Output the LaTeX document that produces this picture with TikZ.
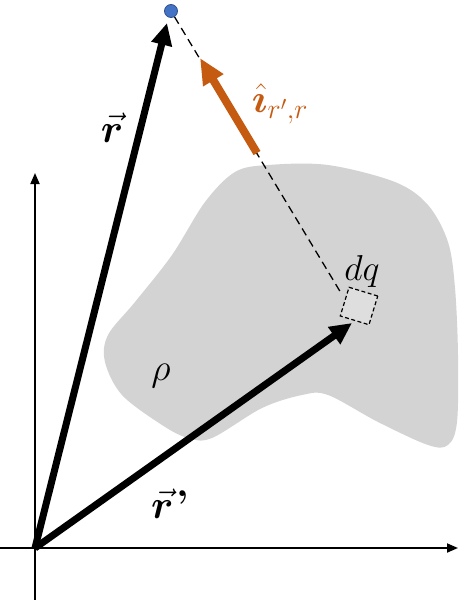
\RequirePackage{fix-cm}
\documentclass[tikz,border=0pt]{standalone}
\usepackage{amsmath,bm}
\usetikzlibrary{arrows.meta}
\definecolor{blobgray}{HTML}{D3D3D3}
\definecolor{sqgray}{HTML}{DEDEDE}
\definecolor{vorange}{HTML}{C55A11}
\definecolor{dotblue}{HTML}{4472C4}
\definecolor{dotedge}{HTML}{2F528F}
\tikzset{
  axis/.style={line width=1.8pt,-{Triangle[length=11pt,width=9pt]}},
  vec/.style={line width=7pt,-{Triangle[length=22pt,width=20pt]}},
  unitvec/.style={line width=8pt,vorange,-{Triangle[length=26pt,width=22pt]}},
  lbl/.style={inner sep=0pt},
  guide/.style={line width=1.3pt,dash pattern=on 8pt off 5pt},
}
\begin{document}
\begin{tikzpicture}[x=1pt,y=-1pt]
\useasboundingbox (0,0) rectangle (469,600);
% charge distribution
\fill[blobgray] plot[smooth cycle,tension=0.55] coordinates {
 (235,172) (268,165) (328,165) (395,182) (428,205) (448,242) (455,288)
 (458,355) (457,422) (448,445) (428,445) (378,422) (328,395) (302,395)
 (262,408) (212,438) (188,438) (162,425) (122,395) (105,362) (108,335)
 (135,302) (172,255) (205,202)};
% axes
\coordinate (O) at (35,548);
\coordinate (xs) at (0,548);
\coordinate (xe) at (458,548);
\coordinate (ys) at (35,600);
\coordinate (ye) at (35,173);
\draw[axis] (xs) -- (xe);
\draw[axis] (ys) -- (ye);
% element
\node[draw,line width=1.2pt,dash pattern=on 4pt off 2.5pt,fill=sqgray,minimum size=30pt,inner sep=0pt,rotate=-17] (sq) at (359,306) {};
\node[lbl,font=\fontsize{36}{40}\selectfont] (dq) at (362,271) {$dq$};
\node[lbl,font=\fontsize{38}{42}\selectfont] (rho) at (161,376) {$\rho$};
% point
\node[circle,fill=dotblue,draw=dotedge,line width=0.8pt,minimum size=13pt,inner sep=0pt] (pt) at (171,11) {};
\coordinate (dqend) at (341,293);
\draw[guide] (pt) -- (dqend);
% vectors
\coordinate (rtip) at (167,23);
\coordinate (rptip) at (352,323);
\draw[vec] (O) -- (rtip);
\draw[vec] (O) -- (rptip);
\coordinate (us) at (257,153);
\coordinate (ue) at (200,58);
\draw[unitvec] (us) -- (ue);
% labels
\node[lbl,font=\fontsize{40}{44}\selectfont] (rl) at (112,128) {$\vec{\bm r}$};
\node[lbl,font=\fontsize{40}{44}\selectfont] (rpl) at (170,504) {$\vec{\bm r}$\kern3pt\textbf{'}};
\node[lbl,font=\fontsize{40}{44}\selectfont,text=vorange] (il) at (280,104) {$\hat{\bm\imath}_{r',r}$};
\end{tikzpicture}
\end{document}
